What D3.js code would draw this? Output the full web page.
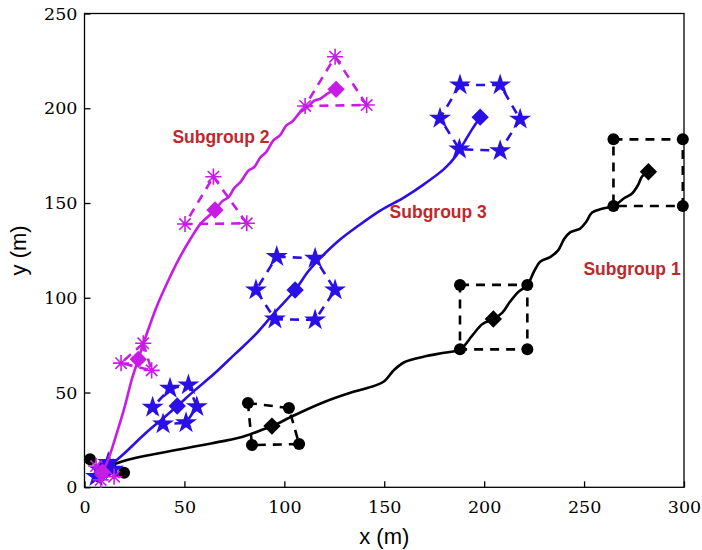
<!DOCTYPE html>
<html>
<head>
<meta charset="utf-8">
<script src="https://cdn.jsdelivr.net/npm/d3@7"></script>
<style>
  html, body { margin: 0; padding: 0; background: #fff; }
  #chartContainer { width: 702px; height: 550px; }
  .title { font-family: "Liberation Sans", Arial, sans-serif; font-size: 22px; fill: #000; }
  .sublabel { font-family: "Liberation Sans", Arial, sans-serif; font-size: 17.5px; font-weight: bold; }
  .axis text { font-family: "DejaVu Serif", serif; font-size: 17.5px; }
</style>
</head>
<body>
<div id="chartContainer"></div>
<script>
// Axis ticks
const xTicks = [0, 50, 100, 150, 200, 250, 300];
const yTicks = [0, 50, 100, 150, 200, 250];

// Trajectories (x, y in metres)
const path1 = [[12, 11], [20, 14], [30, 16.5], [40, 18.5], [50, 20.5], [60, 22.5], [70, 24.5], [80, 27],
  [88, 30], [94, 32.3], [105, 38], [120, 45], [135, 50.5], [145, 53.5], [150, 56], [155, 62],
  [160, 66], [170, 69], [180, 71], [188, 72.8], [194, 80], [199, 86],
  [204.6, 88.8], [209, 92], [213, 98], [217, 103], [221.6, 106.8],
  [225, 114], [228, 119], [233, 121.5], [237, 125], [240, 131], [243, 134.5],
  [248, 136.5], [251, 140], [254, 145], [259, 147], [264.7, 148.4], [270, 152.5],
  [274, 155], [277, 159.5], [279, 164], [282.2, 166.5]];
const path2 = [[9, 8], [12, 15], [16, 28], [20, 42], [23.6, 56.7], [26.9, 67.5], [29.5, 76], [32.5, 85],
  [36, 95], [41, 107], [47, 120], [53, 131], [58, 139], [62, 143], [65.3, 146.3], [69, 151],
  [72, 153], [75, 158], [78, 161], [82, 167], [85, 169], [88, 174], [91, 177], [94.5, 183],
  [98, 186], [101, 191], [104, 193], [108, 198], [111, 200], [115, 204], [118, 205], [122, 208],
  [125.9, 210]];
const path3 = [[10, 9], [20, 18], [30, 28], [40, 37], [46.4, 42.9], [55, 51], [65, 60], [75, 70],
  [85, 80], [95, 92], [105.4, 104.1], [112, 114], [118, 121], [127, 130], [137, 138], [148, 146],
  [160, 153], [170, 160], [180, 168], [186, 175], [190, 182], [194, 189], [198, 195.3]];

// Formation centres (diamonds)
const centres1 = [[93.8, 32.3], [204.6, 88.8], [282.2, 166.5]];
const centres2 = [[26.9, 67.5], [65.3, 146.3], [125.9, 210]];
const centres3 = [[46.4, 42.9], [105.4, 104.1], [198, 195.3]];

// Formation members, in polygon order
const form1 = [
  [[81.8, 44.5], [102.3, 41.8], [107.4, 22.8], [83.8, 22.3]],
  [[187.9, 106.8], [221.6, 106.8], [221.6, 72.8], [187.9, 72.8]],
  [[264.7, 183.6], [299.4, 183.6], [299.4, 148.4], [264.7, 148.4]]
];
const form2 = [
  [[29.4, 76], [33.6, 61.7], [18.3, 65.5]],
  [[64.5, 163.9], [81.2, 139.3], [50.3, 138.9]],
  [[125.4, 227.2], [141.2, 201.7], [110.4, 201.2]]
];
const form3 = [
  [[42.8, 52.2], [52, 54], [56.2, 42.5], [50.8, 34], [39.3, 33.4], [34.1, 42.2]],
  [[96.2, 121.7], [115.4, 120.8], [125.4, 104.1], [115.4, 88.3], [95.3, 88.7], [85.8, 104.1]],
  [[187.9, 212.3], [208, 212.3], [218, 194.2], [208, 177.6], [187.6, 178.4], [177.9, 194.7]]
];

// Start positions near the origin
const start1 = [[2.75, 14.8], [19.8, 7.7], [7.4, 5.6], [9.1, 9.5]];
const start2 = [[5.8, 11.2], [8.1, 3.9], [14.8, 5.6]];
const start3 = [[5.8, 5.6], [11.9, 13], [14.3, 9.5], [8, 9]];

const labels = [
  {text: "Subgroup 1", x: 274, y: 114.7},
  {text: "Subgroup 2", x: 68.3, y: 184.3},
  {text: "Subgroup 3", x: 177, y: 144.7}
];

const black = "#000000", magenta = "#c71ce6", blue = "#2a0fe6", red = "#c0282d";

const width = 702, height = 550;
const marginLeft = 84.5, marginRight = 18, marginTop = 13.5, marginBottom = 62.7;

const x = d3.scaleLinear([0, 300], [marginLeft, width - marginRight]);
const y = d3.scaleLinear([0, 250], [height - marginBottom, marginTop]);

const svg = d3.create("svg")
  .attr("width", width)
  .attr("height", height)
  .attr("viewBox", [0, 0, width, height]);

// Box
svg.append("rect")
  .attr("x", x(0)).attr("y", y(250))
  .attr("width", x(300) - x(0)).attr("height", y(0) - y(250))
  .attr("fill", "none").attr("stroke", "#000").attr("stroke-width", 1.3);

// Axes with inward ticks
svg.append("g")
  .attr("class", "axis")
  .attr("transform", `translate(0,${y(0)})`)
  .call(d3.axisBottom(x).tickValues(xTicks).tickSize(-6).tickPadding(13))
  .call(g => g.select(".domain").remove())
  .call(g => g.selectAll(".tick line").attr("stroke-width", 1.3))
  .call(g => g.selectAll(".tick text").attr("fill", "#000"));

svg.append("g")
  .attr("class", "axis")
  .attr("transform", `translate(${x(0)},0)`)
  .call(d3.axisLeft(y).tickValues(yTicks).tickSize(-6).tickPadding(7))
  .call(g => g.select(".domain").remove())
  .call(g => g.selectAll(".tick line").attr("stroke-width", 1.3))
  .call(g => g.selectAll(".tick text").attr("fill", "#000"));

// Axis titles
svg.append("text")
  .attr("class", "title")
  .attr("x", (x(0) + x(300)) / 2).attr("y", 544)
  .attr("text-anchor", "middle")
  .text("x (m)");

svg.append("text")
  .attr("class", "title")
  .attr("transform", `translate(26,${(y(0) + y(250)) / 2}) rotate(-90)`)
  .attr("text-anchor", "middle")
  .text("y (m)");

// Custom asterisk (MATLAB style, 8 arms)
const asterisk = {
  draw(context, size) {
    const r = Math.sqrt(size) / 2;
    const d = r * Math.SQRT1_2;
    context.moveTo(-r, 0); context.lineTo(r, 0);
    context.moveTo(0, -r); context.lineTo(0, r);
    context.moveTo(-d, -d); context.lineTo(d, d);
    context.moveTo(-d, d); context.lineTo(d, -d);
  }
};

const line = d3.line().x(d => x(d[0])).y(d => y(d[1])).curve(d3.curveCatmullRom.alpha(0.5));
const poly = d3.line().x(d => x(d[0])).y(d => y(d[1])).curve(d3.curveLinearClosed);

function drawGroup(path, centres, forms, starts, color, kind) {
  const g = svg.append("g");

  // Dashed formations
  g.selectAll(".form").data(forms).join("path")
    .attr("d", poly)
    .attr("fill", "none")
    .attr("stroke", color)
    .attr("stroke-width", 2.6)
    .attr("stroke-dasharray", "9,7");

  // Trajectory
  g.append("path")
    .attr("d", line(path))
    .attr("fill", "none")
    .attr("stroke", color)
    .attr("stroke-width", 2.6);

  // Member markers
  const members = forms.flat().concat(starts);
  if (kind == "dot") {
    g.selectAll(".m").data(members).join("circle")
      .attr("cx", d => x(d[0])).attr("cy", d => y(d[1]))
      .attr("r", 6).attr("fill", color);
  } else if (kind == "star") {
    g.selectAll(".m").data(members).join("path")
      .attr("transform", d => `translate(${x(d[0])},${y(d[1])})`)
      .attr("d", d3.symbol(d3.symbolStar, 150))
      .attr("fill", color);
  } else {
    g.selectAll(".m").data(members).join("path")
      .attr("transform", d => `translate(${x(d[0])},${y(d[1])})`)
      .attr("d", d3.symbol(asterisk, 260))
      .attr("fill", "none")
      .attr("stroke", color)
      .attr("stroke-width", 1.6);
  }

  // Centre diamonds
  g.selectAll(".c").data(centres.concat([path[0]])).join("path")
    .attr("transform", d => `translate(${x(d[0])},${y(d[1])}) rotate(45)`)
    .attr("d", d3.symbol(d3.symbolSquare, 150))
    .attr("fill", color);
}

drawGroup(path1, centres1, form1, start1, black, "dot");
drawGroup(path3, centres3, form3, start3, blue, "star");
drawGroup(path2, centres2, form2, start2, magenta, "asterisk");

// Subgroup labels
svg.selectAll(".lab").data(labels).join("text")
  .attr("class", "sublabel")
  .attr("x", d => x(d.x)).attr("y", d => y(d.y))
  .attr("text-anchor", "middle")
  .attr("dominant-baseline", "middle")
  .attr("fill", red)
  .text(d => d.text);

document.getElementById("chartContainer").append(svg.node());
</script>
</body>
</html>
